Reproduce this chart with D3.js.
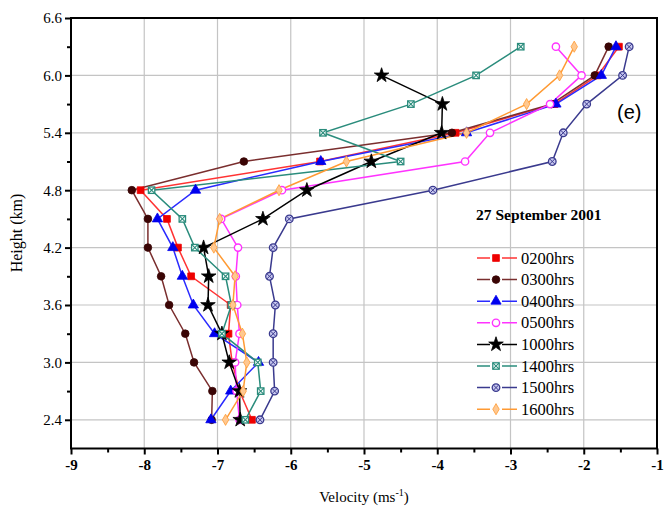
<!DOCTYPE html>
<html>
<head>
<meta charset="utf-8">
<script src="https://cdn.jsdelivr.net/npm/d3@7"></script>
<style>
  html, body { margin: 0; padding: 0; background: #fff; }
  svg { display: block; }
</style>
</head>
<body>
<svg id="chart" width="664" height="512"></svg>
<script>
// Vertical wind-velocity profiles, 27 September 2001
const heights = [2.4, 2.7, 3.0, 3.3, 3.6, 3.9, 4.2, 4.5, 4.8, 5.1, 5.4, 5.7, 6.0, 6.3];

const hrs0200 = [-6.53, -6.70, -6.80, -6.85, -6.82, -7.36, -7.54, -7.69, -8.05, -5.60, -3.75, -2.40, -1.81, -1.52];
const hrs0300 = [-7.08, -7.07, -7.32, -7.44, -7.66, -7.77, -7.95, -7.95, -8.17, -6.64, -3.80, -2.44, -1.85, -1.66];
const hrs0400 = [-7.09, -6.82, -6.44, -7.04, -7.33, -7.48, -7.61, -7.82, -7.30, -5.59, -3.60, -2.38, -1.76, -1.56];
const hrs0500 = [-6.70, -6.74, -6.76, -6.70, -6.73, -6.75, -6.72, -6.95, -6.12, -3.62, -3.28, -2.46, -2.03, -2.38];
const hrs1000 = [-6.69, -6.70, -6.84, -6.94, -7.13, -7.12, -7.19, -6.38, -5.78, -4.90, -3.94, -3.93, -4.76, null];
const hrs1400 = [-6.62, -6.41, -6.45, -6.94, -6.81, -6.89, -7.31, -7.48, -7.90, -4.50, -5.56, -4.36, -3.47, -2.86];
const hrs1500 = [-6.42, -6.22, -6.24, -6.24, -6.21, -6.29, -6.24, -6.02, -4.06, -2.43, -2.28, -1.96, -1.47, -1.38];
const hrs1600 = [-6.89, -6.65, -6.60, -6.66, -6.79, -6.76, -7.05, -6.97, -6.16, -5.24, -3.60, -2.78, -2.33, -2.13];

const seriesNames = ["0200hrs", "0300hrs", "0400hrs", "0500hrs", "1000hrs", "1400hrs", "1500hrs", "1600hrs"];
const seriesValues = [hrs0200, hrs0300, hrs0400, hrs0500, hrs1000, hrs1400, hrs1500, hrs1600];

const xTicks = [-9, -8, -7, -6, -5, -4, -3, -2, -1];
const xMinorTicks = [-8.5, -7.5, -6.5, -5.5, -4.5, -3.5, -2.5, -1.5];
const yTicks = [2.4, 3.0, 3.6, 4.2, 4.8, 5.4, 6.0, 6.6];
const yMinorTicks = [2.7, 3.3, 3.9, 4.5, 5.1, 5.7, 6.3];

const titleText = "27 September 2001";
const panelText = "(e)";

// Per-series styling
const styles = [
  { line: "#ff3333", stroke: "#ee0000", fill: "#ee0000", sym: d3.symbolSquare, size: 46 },
  { line: "#7a2e2e", stroke: "#3a0505", fill: "#3a0505", sym: d3.symbolCircle, size: 46 },
  { line: "#2a2aff", stroke: "#0000ee", fill: "#0000ee", sym: d3.symbolTriangle, size: 46 },
  { line: "#ff33ff", stroke: "#ff33ff", fill: "#ffffff", sym: d3.symbolCircle, size: 42 },
  { line: "#000000", stroke: "#000000", fill: "#000000", sym: d3.symbolStar, size: 66 },
  { line: "#2a8c7c", stroke: "#2a8c7c", fill: "#ffffff", sym: "xsquare", size: 40 },
  { line: "#3a3a8e", stroke: "#3a3a8e", fill: "#ffffff", sym: "xcircle", size: 50 },
  { line: "#ff9a33", stroke: "#ff9a33", fill: "#ffc890", sym: d3.symbolDiamond, size: 36 }
];

const svg = d3.select("#chart");
const plotLeft = 71, plotRight = 657, plotTop = 18, plotBottom = 448.5;

const x = d3.scaleLinear().domain([-9, -1]).range([plotLeft, plotRight]);
const y = d3.scaleLinear().domain([2.1, 6.6]).range([plotBottom, plotTop]);

const serif = "'Liberation Serif', 'Times New Roman', serif";

// Grid
const grid = svg.append("g");
grid.selectAll("line.gx").data(xTicks.slice(1, -1)).enter().append("line")
  .attr("x1", d => x(d)).attr("x2", d => x(d)).attr("y1", plotTop).attr("y2", plotBottom)
  .attr("stroke", "#c4c4c4").attr("stroke-width", 1.2);
grid.selectAll("line.gy").data(yTicks.slice(0, -1)).enter().append("line")
  .attr("y1", d => y(d)).attr("y2", d => y(d)).attr("x1", plotLeft).attr("x2", plotRight)
  .attr("stroke", "#c4c4c4").attr("stroke-width", 1.2);

// Series lines and markers
function drawMarker(g, st, cx, cy) {
  if (st.sym === "xsquare") {
    const h = 3.2;
    g.append("rect").attr("x", cx - h).attr("y", cy - h).attr("width", 2 * h).attr("height", 2 * h)
      .attr("fill", "#ffffff").attr("stroke", st.stroke).attr("stroke-width", 1.3);
    g.append("path").attr("d", `M${cx - h},${cy - h}L${cx + h},${cy + h}M${cx + h},${cy - h}L${cx - h},${cy + h}`)
      .attr("stroke", st.stroke).attr("stroke-width", 1.1);
  } else if (st.sym === "xcircle") {
    const r = 3.8;
    g.append("circle").attr("cx", cx).attr("cy", cy).attr("r", r)
      .attr("fill", "#c8c8f0").attr("stroke", st.stroke).attr("stroke-width", 1.3);
    const k = r * 0.7;
    g.append("path").attr("d", `M${cx - k},${cy - k}L${cx + k},${cy + k}M${cx + k},${cy - k}L${cx - k},${cy + k}`)
      .attr("stroke", st.stroke).attr("stroke-width", 1);
  } else {
    g.append("path")
      .attr("d", d3.symbol().type(st.sym).size(st.size)())
      .attr("transform", `translate(${cx},${cy})`)
      .attr("fill", st.fill).attr("stroke", st.stroke).attr("stroke-width", st.fill === "#ffffff" ? 1.4 : 0.8);
  }
}

const lineGen = d3.line()
  .defined(d => d.v !== null)
  .x(d => x(d.v)).y(d => y(d.h));

seriesValues.forEach((vals, i) => {
  const st = styles[i];
  const pts = vals.map((v, j) => ({ v, h: heights[j] }));
  svg.append("path").datum(pts)
    .attr("d", lineGen)
    .attr("fill", "none").attr("stroke", st.line).attr("stroke-width", 1.5);
});
seriesValues.forEach((vals, i) => {
  const st = styles[i];
  const g = svg.append("g");
  vals.forEach((v, j) => {
    if (v === null) return;
    drawMarker(g, st, x(v), y(heights[j]));
  });
});

// Frame
svg.append("rect").attr("x", plotLeft).attr("y", plotTop)
  .attr("width", plotRight - plotLeft).attr("height", plotBottom - plotTop)
  .attr("fill", "none").attr("stroke", "#000").attr("stroke-width", 2);

// Axes
const xAxis = svg.append("g").attr("transform", `translate(0,${plotBottom})`)
  .call(d3.axisBottom(x).tickValues(xTicks).tickSize(6).tickSizeOuter(0).tickFormat(d => String(d)));
const xMinor = svg.append("g").attr("transform", `translate(0,${plotBottom})`)
  .call(d3.axisBottom(x).tickValues(xMinorTicks).tickSize(4).tickSizeOuter(0).tickFormat(""));
const yAxis = svg.append("g").attr("transform", `translate(${plotLeft},0)`)
  .call(d3.axisLeft(y).tickValues(yTicks).tickSize(6).tickSizeOuter(0).tickFormat(d3.format(".1f")));
const yMinor = svg.append("g").attr("transform", `translate(${plotLeft},0)`)
  .call(d3.axisLeft(y).tickValues(yMinorTicks).tickSize(4).tickSizeOuter(0).tickFormat(""));

[xAxis, xMinor, yAxis, yMinor].forEach(a => {
  a.select(".domain").remove();
  a.selectAll(".tick line").attr("stroke", "#000").attr("stroke-width", 2);
});
xAxis.selectAll(".tick text")
  .attr("font-family", serif).attr("font-size", 15).attr("font-weight", "bold")
  .attr("fill", "#000").attr("dy", "0.71em").attr("y", 11);
yAxis.selectAll(".tick text")
  .attr("font-family", serif).attr("font-size", 15)
  .attr("fill", "#000").attr("x", -9);

// Axis titles
const xt = svg.append("text").attr("x", 364).attr("y", 502).attr("text-anchor", "middle")
  .attr("font-family", serif).attr("font-size", 15).attr("fill", "#000");
xt.append("tspan").text("Velocity (ms");
xt.append("tspan").attr("font-size", 10).attr("dy", -6).text("-1");
xt.append("tspan").attr("dy", 6).text(")");

svg.append("text").attr("transform", "translate(22,233) rotate(-90)")
  .attr("text-anchor", "middle").attr("font-family", serif).attr("font-size", 16)
  .attr("fill", "#000").text("Height (km)");

// Annotations
svg.append("text").attr("x", 476).attr("y", 220)
  .attr("font-family", serif).attr("font-size", 15.5).attr("font-weight", "bold")
  .attr("fill", "#000").text(titleText);
svg.append("text").attr("x", 617).attr("y", 119)
  .attr("font-family", "'Liberation Sans', Arial, sans-serif").attr("font-size", 20)
  .attr("fill", "#000").text(panelText);

// Legend
const legend = svg.append("g");
seriesNames.forEach((name, i) => {
  const st = styles[i];
  const ly = 258 + i * 21.6;
  legend.append("line").attr("x1", 477).attr("x2", 517).attr("y1", ly).attr("y2", ly)
    .attr("stroke", st.line).attr("stroke-width", 1.5);
  legend.append("rect").attr("x", 490).attr("y", ly - 4).attr("width", 12).attr("height", 8).attr("fill", "#fff");
  drawMarker(legend, st, 496, ly);
  legend.append("text").attr("x", 521).attr("y", ly + 5.5)
    .attr("font-family", serif).attr("font-size", 16.5).attr("fill", "#000").text(name);
});
</script>
</body>
</html>
